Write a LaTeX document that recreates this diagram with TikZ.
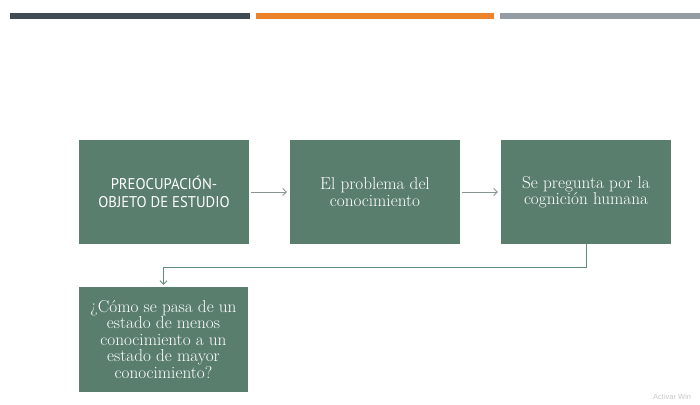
\documentclass[tikz,border=0pt]{standalone}
\usepackage{fontspec}
\usetikzlibrary{arrows.meta}
\newfontfamily\boxsans[FakeStretch=0.95]{PT Sans}
\newfontfamily\wmsans{Liberation Sans}
\definecolor{boxgreen}{RGB}{90,126,110}
\definecolor{bardark}{RGB}{64,76,84}
\definecolor{barorange}{RGB}{234,131,42}
\definecolor{bargray}{RGB}{150,156,164}
\definecolor{arrgray}{RGB}{135,150,146}
\definecolor{conngreen}{RGB}{100,140,126}
\begin{document}
\begin{tikzpicture}[x=1pt,y=-1pt,
  bx/.style={fill=boxgreen,draw=none,minimum width=170pt,minimum height=104pt,
    inner sep=2pt,text=white,align=center},
  sertext/.style={font=\fontsize{17.2}{16.5}\selectfont},
  sanstext/.style={font=\boxsans\fontsize{15.5}{18}\selectfont},
  link/.style={draw=arrgray,line width=0.8pt,-{Straight Barb[length=3.5pt,width=7pt]}},
  conn/.style={draw=conngreen,line width=0.8pt,-{Straight Barb[length=3.5pt,width=7pt]}}]
\useasboundingbox (0,0) rectangle (700,404);
\clip (0,0) rectangle (700,404);
% top bars
\fill[bardark] (10,13) rectangle (250,19);
\fill[barorange] (256,13) rectangle (494,19);
\fill[bargray] (500,13) rectangle (700,19);
% boxes
\node[bx,sanstext] (b1) at (164,192) {PREOCUPACIÓN-\\OBJETO DE ESTUDIO};
\node[bx,sertext] (b2) at (375,192) {El problema del\\conocimiento};
\node[bx,sertext] (b3) at (586,192) {Se pregunta por la\\cognición humana};
\node[bx,sertext,minimum width=169pt,minimum height=105pt] (b4) at (163.5,339.5)
  {¿Cómo se pasa de un\\estado de menos\\conocimiento a un\\estado de mayor\\conocimiento?};
% connectors
\draw[link,shorten <=2pt,shorten >=3pt] (b1) -- (b2);
\draw[link,shorten <=2pt,shorten >=3pt] (b2) -- (b3);
\coordinate (turn) at (586,267);
\draw[conn,shorten >=2pt] (b3.south) -- (turn) -| (b4.north);
% watermark
\node[anchor=west,inner sep=0pt,text=black!22,font=\wmsans\fontsize{7.5}{9}\selectfont] (wm) at (653,397) {Activar Win};
\end{tikzpicture}
\end{document}
